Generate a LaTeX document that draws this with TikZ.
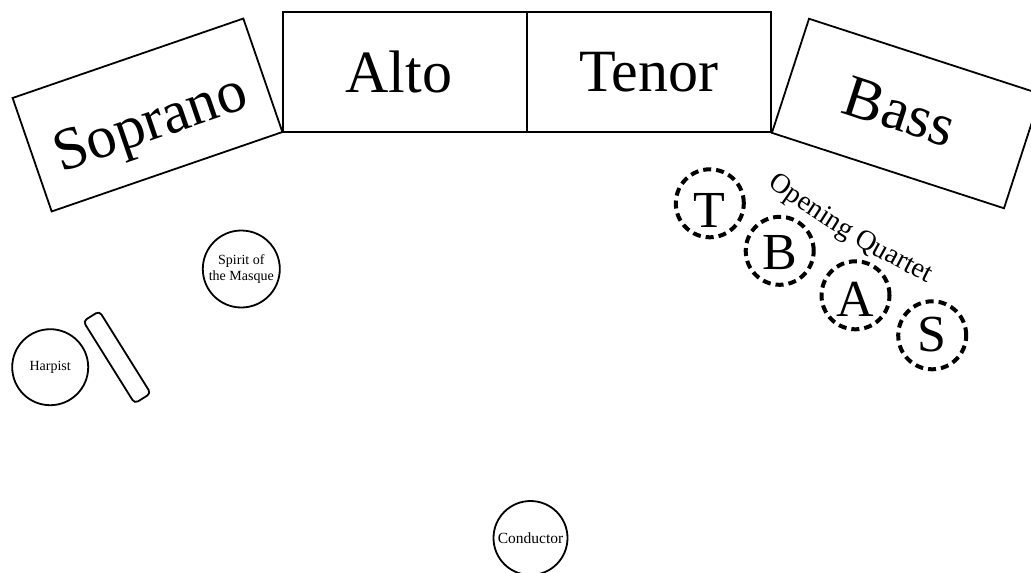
\documentclass[tikz,border=0pt]{standalone}
\usepackage{fontspec}
\setmainfont{Liberation Serif}
\usetikzlibrary{decorations.text}
\tikzset{
  section/.style={draw, line width=1.8pt, minimum width=244pt, minimum height=120pt, inner sep=0pt, font=\fontsize{60}{66}\selectfont},
  person/.style={draw, circle, line width=1.8pt, inner sep=0pt, font=\fontsize{14}{15.7}\selectfont, align=center},
  soloist/.style={draw, circle, line width=4pt, dash pattern=on 8pt off 5pt, minimum size=68pt, inner sep=0pt, font=\fontsize{52}{56}\selectfont, text depth=0pt},
  harp/.style={draw, line width=1.8pt, rounded corners=4pt, minimum width=97pt, minimum height=19pt, inner sep=0pt},
}
\begin{document}
\begin{tikzpicture}[x=1pt, y=-1pt]
\useasboundingbox (0,0) rectangle (1031,573);
\clip (0,0) rectangle (1031,573);
% choir sections
\node[section] (alto) at (405,72) {\hspace*{-12pt}Alto};
\node[section] (tenor) at (649,72) {Tenor};
\node[section, rotate=19, text height=52pt, text depth=0pt] (soprano) at (147.5,115) {Soprano};
\node[section, rotate=-18] (bass) at (906.5,113.5) {\hspace*{-14pt}Bass};
% soloists
\node[person, minimum size=77pt] (spirit) at (241.3,269) {Spirit of\\the Masque};
\node[person, minimum size=76pt] (harpist) at (50.2,367.2) {Harpist};
\node[harp, rotate=-58] (harpbox) at (117,357.3) {};
\node[person, minimum size=74pt, font=\fontsize{15.5}{17}\selectfont] (conductor) at (530.5,538) {Conductor};
% opening quartet
\node[soloist, text height=48pt] (qt) at (709.8,203.3) {T};
\node[soloist, text height=37pt] (qb) at (779.7,250.8) {B};
\node[soloist, text height=42pt] (qa) at (855.5,295.3) {A};
\node[soloist, text height=33pt] (qs) at (932.2,335.3) {S};
\coordinate (qstart) at (762.1,182.1);
\coordinate (qc1) at (815.4,222.2);
\coordinate (qc2) at (873,256.5);
\coordinate (qend) at (932.9,285.7);
\path[decorate, decoration={text along path, text align=center,
  text={|\fontsize{28}{30}\selectfont|Opening Quartet}}]
  (qstart) .. controls (qc1) and (qc2) .. (qend);
\end{tikzpicture}
\end{document}
